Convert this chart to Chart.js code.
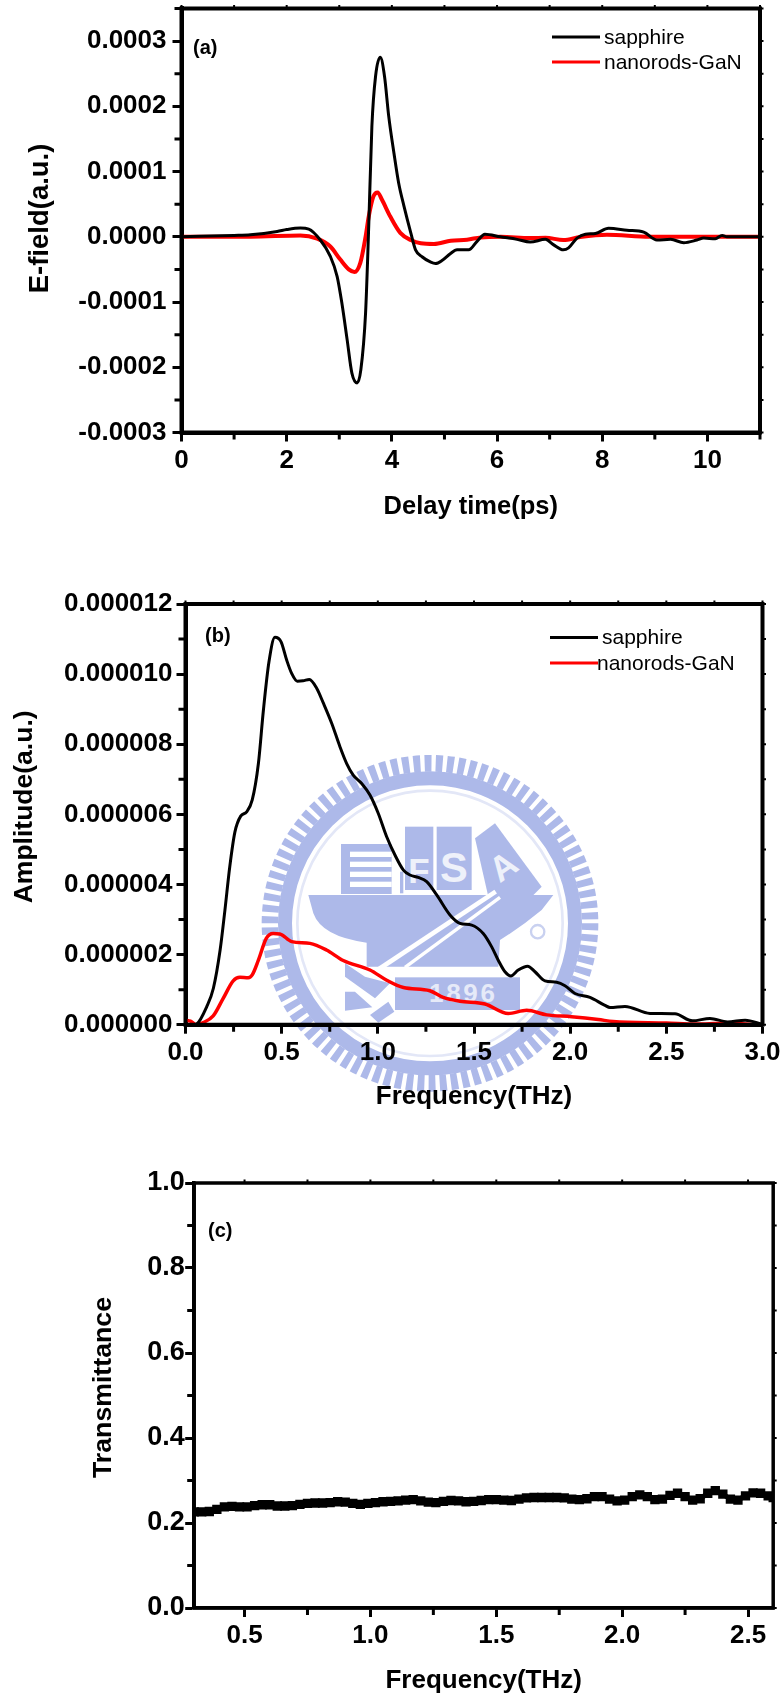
<!DOCTYPE html>
<html><head><meta charset="utf-8">
<style>
html,body{margin:0;padding:0;background:#fff;width:782px;height:1697px;overflow:hidden}
canvas{position:absolute;left:0;z-index:2}
#logo{position:absolute;left:255px;top:750px;width:360px;height:350px;z-index:1}
</style>
<script src="https://cdn.jsdelivr.net/npm/chart.js@4"></script>
</head><body>
<svg id="logo" viewBox="0 0 1080 1050" xmlns="http://www.w3.org/2000/svg" font-family="Liberation Sans" font-weight="bold">
  <circle cx="525" cy="520" r="480" fill="none" stroke="#adb9e9" stroke-width="50" pathLength="90" stroke-dasharray="0.62 0.38"/>
  <circle cx="525" cy="520" r="435" fill="none" stroke="#adb9e9" stroke-width="42"/>
  <circle cx="525" cy="520" r="398" fill="none" stroke="#e3e7f7" stroke-width="8"/>
  <g fill="#adb9e9">
    <rect x="258" y="282" width="152" height="150"/>
    <rect x="450" y="230" width="85" height="190"/>
    <rect x="545" y="230" width="105" height="190"/>
    <rect x="435" y="365" width="10" height="65"/>
    <polygon points="660,265 720,220 860,410 800,470 700,440"/>
    <path d="M160,435 H895 L860,480 Q800,530 735,570 L730,650 H335 L335,578 Q200,560 175,490 Z"/>
    <rect x="420" y="682" width="375" height="98"/>
    <polygon points="270,640 330,680 405,700 360,745 270,680"/>
    <polygon points="270,725 300,725 352,772 270,782"/>
    <polygon points="345,795 400,755 418,785 370,818"/>
  </g>
  <g fill="#fff">
    <rect x="285" y="305" width="125" height="16"/>
    <rect x="285" y="335" width="125" height="16"/>
    <rect x="285" y="365" width="125" height="16"/>
    <rect x="285" y="395" width="125" height="16"/>
    <text x="492" y="400" font-size="105" text-anchor="middle" opacity="0.8">F</text>
    <text x="597" y="397" font-size="125" text-anchor="middle" opacity="0.8">S</text>
    <text x="745" y="385" font-size="105" text-anchor="middle" opacity="0.8" transform="rotate(-35 745 350)">A</text>
    <text x="625" y="755" font-size="78" text-anchor="middle" letter-spacing="8" opacity="0.7">1896</text>
  </g>
  <path d="M345,675 L722,425" stroke="#fff" stroke-width="14" fill="none"/>
  <path d="M450,652 L735,442" stroke="#fff" stroke-width="10" fill="none"/>
  <circle cx="848" cy="545" r="20" fill="none" stroke="#c9d1f0" stroke-width="7"/>
</svg>
<canvas id="a" width="782" height="530" style="top:0"></canvas>
<canvas id="b" width="782" height="590" style="top:540px"></canvas>
<canvas id="c" width="782" height="557" style="top:1140px"></canvas>
<script>
// ---------- panel (a) ----------
const timeSapphire = [0,1,1.31,1.82,2.0,2.26,2.42,2.64,2.83,2.96,3.05,3.15,3.24,3.34,3.41,3.5,3.56,3.62,3.69,3.78,3.86,3.94,4.04,4.13,4.23,4.36,4.45,4.58,4.74,4.83,4.96,5.11,5.24,5.46,5.62,5.77,6.06,6.38,6.63,6.92,7.07,7.26,7.36,7.52,7.68,7.87,8.12,8.47,8.79,9.04,9.3,9.55,9.8,9.93,10.15,10.28,10.37,11];
const fieldSapphire = [0,0.02,0.03,0.08,0.11,0.133,0.118,-0.05,-0.30,-0.61,-1.02,-1.58,-2.09,-2.24,-2.04,-1.17,0.16,1.69,2.46,2.75,2.46,1.85,1.28,0.82,0.47,0.06,-0.2,-0.31,-0.39,-0.41,-0.36,-0.26,-0.2,-0.2,-0.07,0.04,0,-0.04,-0.08,-0.04,-0.12,-0.2,-0.17,-0.02,0.04,0.05,0.13,0.1,0.07,-0.05,-0.04,-0.09,-0.05,-0.02,-0.03,0.02,0,0];
const timeGaN = [0,1.31,2.26,2.58,2.83,3.02,3.18,3.29,3.4,3.5,3.56,3.65,3.73,3.81,3.97,4.16,4.36,4.55,4.8,5.12,5.43,5.69,6.07,6.63,6.92,7.26,7.58,8.09,8.9,11];
const fieldGaN = [0,0,0.02,-0.03,-0.15,-0.35,-0.5,-0.54,-0.4,0,0.31,0.62,0.68,0.57,0.31,0.06,-0.05,-0.1,-0.11,-0.06,-0.045,-0.01,0,-0.02,-0.015,-0.05,-0.005,0.03,0,0];
const fieldUnit = 1e-4;
const ticksAX = [0,2,4,6,8,10];
const minorAX = [1,3,5,7,9,11];
const ticksAY = [-0.0003,-0.0002,-0.0001,0,0.0001,0.0002,0.0003];
const minorAY = [-0.00025,-0.00015,-0.00005,0.00005,0.00015,0.00025,0.00035];

// ---------- panel (b) ----------
const freqSapphire = [0.04,0.058,0.11,0.145,0.18,0.205,0.23,0.257,0.287,0.318,0.347,0.379,0.405,0.434,0.465,0.497,0.526,0.552,0.581,0.611,0.644,0.682,0.717,0.76,0.803,0.838,0.872,0.916,0.959,1.002,1.046,1.089,1.133,1.167,1.21,1.254,1.306,1.375,1.427,1.488,1.548,1.592,1.626,1.661,1.692,1.73,1.779,1.817,1.869,1.93,1.973,2.025,2.103,2.181,2.207,2.285,2.415,2.545,2.636,2.727,2.818,2.91,3.0];
const ampSapphire = [0,0.02,0.51,1.04,2.13,3.27,4.5,5.5,5.95,6.07,6.41,7.45,8.97,10.35,11.05,10.92,10.4,10.02,9.8,9.81,9.85,9.6,9.17,8.6,7.93,7.45,7.12,6.88,6.55,6.03,5.36,4.84,4.41,4.27,4.2,4.08,3.7,3.13,2.89,2.84,2.6,2.22,1.84,1.51,1.39,1.56,1.67,1.51,1.25,1.21,1.11,0.89,0.78,0.55,0.49,0.52,0.32,0.31,0.11,0.18,0.08,0.13,0.01];
const freqGaN = [0,0.026,0.058,0.092,0.144,0.196,0.248,0.283,0.326,0.347,0.379,0.42,0.456,0.49,0.552,0.647,0.733,0.82,0.959,1.046,1.133,1.27,1.34,1.427,1.557,1.678,1.774,1.878,2.007,2.146,2.223,2.5,2.65,2.8,3.0];
const ampGaN = [0.13,0.1,0,0.06,0.25,0.75,1.25,1.35,1.34,1.42,1.84,2.46,2.6,2.59,2.37,2.32,2.13,1.83,1.56,1.27,1.06,0.97,0.78,0.67,0.59,0.32,0.41,0.28,0.23,0.15,0.09,0.05,0.02,0.04,0];
const ampUnit = 1e-6;
const ticksBX = [0,0.5,1,1.5,2,2.5,3];
const minorBX = [0.25,0.75,1.25,1.75,2.25,2.75];
const ticksBY = [0,0.000002,0.000004,0.000006,0.000008,0.00001,0.000012];
const minorBY = [0.000001,0.000003,0.000005,0.000007,0.000009,0.000011];

// ---------- panel (c) ----------
const freqTrans = [0.30,0.33,0.36,0.39,0.42,0.45,0.48,0.51,0.54,0.57,0.60,0.63,0.66,0.69,0.72,0.75,0.78,0.81,0.84,0.87,0.90,0.93,0.96,0.99,1.02,1.05,1.08,1.11,1.14,1.17,1.20,1.23,1.26,1.29,1.32,1.35,1.38,1.41,1.44,1.47,1.50,1.53,1.56,1.59,1.62,1.65,1.68,1.71,1.74,1.77,1.80,1.83,1.86,1.89,1.92,1.95,1.98,2.01,2.04,2.07,2.10,2.13,2.16,2.19,2.22,2.25,2.28,2.31,2.34,2.37,2.40,2.43,2.46,2.49,2.52,2.55,2.58,2.60];
const transmittance = [0.226,0.226,0.227,0.232,0.238,0.239,0.238,0.238,0.241,0.243,0.243,0.240,0.240,0.241,0.244,0.246,0.247,0.247,0.248,0.250,0.249,0.246,0.244,0.246,0.248,0.250,0.251,0.252,0.254,0.255,0.252,0.249,0.248,0.251,0.253,0.252,0.250,0.251,0.253,0.255,0.255,0.254,0.253,0.256,0.259,0.260,0.260,0.260,0.260,0.259,0.256,0.255,0.257,0.262,0.262,0.256,0.252,0.254,0.262,0.266,0.262,0.255,0.256,0.265,0.270,0.262,0.254,0.257,0.270,0.276,0.268,0.256,0.254,0.264,0.271,0.270,0.264,0.260];
const ticksCX = [0.5,1,1.5,2,2.5];
const minorCX = [0.75,1.25,1.75,2.25];
const ticksCY = [0,0.2,0.4,0.6,0.8,1];
const minorCY = [0.1,0.3,0.5,0.7,0.9];

const seriesNames = ['sapphire','nanorods-GaN'];
const BLACK = '#000000', RED = '#ff0000';

Chart.defaults.font.family = '"Liberation Sans", Arial, sans-serif';
Chart.defaults.color = '#000';

const pairs = (xs, ys, k = 1) => xs.map((x, i) => ({ x, y: ys[i] * k }));

// Panel tag, in-plot legend, top/right frame, minor ticks and mirrored ticks.
const panelDecor = {
  id: 'panelDecor',
  afterLayout(chart, args, o) {
    const y = chart.scales.y, shift = o.titleShift;
    if (!y._shifted) {
      const orig = y.drawTitle;
      y.drawTitle = function () { this.top += shift; this.bottom += shift; orig.call(this); this.top -= shift; this.bottom -= shift; };
      y._shifted = true;
    }
  },
  afterDatasetsDraw(chart, args, o) {
    const { ctx, chartArea: ca, scales: { x, y } } = chart;
    ctx.save();
    ctx.strokeStyle = '#000';
    ctx.lineCap = 'butt';
    // frame
    ctx.lineWidth = o.frame;
    ctx.beginPath();
    ctx.moveTo(ca.left - o.frame / 2, ca.top); ctx.lineTo(ca.right + o.frame / 2, ca.top);
    ctx.moveTo(ca.right, ca.top); ctx.lineTo(ca.right, ca.bottom);
    ctx.moveTo(ca.left - o.frame / 2, ca.bottom); ctx.lineTo(ca.right + o.frame / 2, ca.bottom);
    ctx.moveTo(ca.left, ca.top); ctx.lineTo(ca.left, ca.bottom);
    ctx.stroke();
    // minor ticks
    ctx.lineWidth = 3;
    ctx.beginPath();
    o.minorX.forEach(v => { const p = x.getPixelForValue(v); ctx.moveTo(p, ca.bottom); ctx.lineTo(p, ca.bottom + 7); });
    o.minorY.forEach(v => { const p = y.getPixelForValue(v); ctx.moveTo(ca.left, p); ctx.lineTo(ca.left - 7, p); });
    ctx.stroke();
    // mirrored ticks on the top and right edges
    ctx.lineWidth = 2;
    ctx.beginPath();
    o.ticksX.concat(o.minorX).forEach(v => { const p = x.getPixelForValue(v); ctx.moveTo(p, ca.top); ctx.lineTo(p, ca.top - 3.5); });
    o.ticksY.concat(o.minorY).forEach(v => { const p = y.getPixelForValue(v); ctx.moveTo(ca.right, p); ctx.lineTo(ca.right + 3.5, p); });
    ctx.stroke();
    // panel tag
    ctx.fillStyle = '#000';
    ctx.textBaseline = 'middle';
    ctx.font = 'bold 20px "Liberation Sans"';
    ctx.fillText(o.tag, o.tagX, o.tagY);
    // legend
    if (o.legend) {
      ctx.font = '21px "Liberation Sans"';
      chart.data.datasets.forEach((ds, i) => {
        const l = o.legend[i];
        ctx.strokeStyle = ds.borderColor;
        ctx.lineWidth = 3;
        ctx.beginPath(); ctx.moveTo(l.x0, l.y); ctx.lineTo(l.x1, l.y); ctx.stroke();
        ctx.fillStyle = '#000';
        ctx.fillText(ds.label, l.tx, l.y + 1);
      });
    }
    ctx.restore();
  }
};

function panel(cfg) {
  const fixedWidth = w => s => { s.width = w; s.paddingTop = s.paddingBottom = s.paddingLeft = s.paddingRight = 0; };
  const fixedHeight = h => s => { s.height = h; s.paddingTop = s.paddingBottom = s.paddingLeft = s.paddingRight = 0; };
  const axis = (c) => ({
    type: 'linear', min: c.min, max: c.max,
    border: { display: true, color: '#000', width: cfg.frame },
    grid: { display: true, drawOnChartArea: false, drawTicks: true, tickLength: 9, tickWidth: 3, tickColor: '#000' },
    ticks: {
      color: '#000', autoSkip: false, maxRotation: 0, minRotation: 0, padding: c.pad,
      font: { size: c.fs, weight: 'bold' },
      callback: v => Number(v).toFixed(c.digits)
    },
    afterBuildTicks: s => { s.ticks = c.ticks.map(value => ({ value })); },
    title: { display: true, text: c.title, color: '#000', font: { size: c.titleFs, weight: 'bold' }, padding: c.titlePad }
  });
  return new Chart(document.getElementById(cfg.id), {
    type: 'line',
    data: { datasets: cfg.datasets },
    options: {
      responsive: false, animation: false, devicePixelRatio: 1,
      layout: { padding: { top: cfg.top, right: 782 - cfg.right, left: 0, bottom: 0 } },
      plugins: {
        legend: { display: false }, tooltip: { enabled: false },
        panelDecor: {
          frame: cfg.frame, minorX: cfg.x.minor, minorY: cfg.y.minor, ticksX: cfg.x.ticks, ticksY: cfg.y.ticks,
          tag: cfg.tag, tagX: cfg.tagX, tagY: cfg.tagY, legend: cfg.legend, titleShift: cfg.titleShift
        }
      },
      elements: { point: { radius: 0 } },
      scales: {
        x: Object.assign(axis(cfg.x), { afterFit: fixedHeight(cfg.canvasH - cfg.bottom) }),
        y: Object.assign(axis(cfg.y), { afterFit: fixedWidth(cfg.left) })
      }
    },
    plugins: [panelDecor]
  });
}

const lineDs = (label, data, color, w) => ({
  label, data, borderColor: color, backgroundColor: color, borderWidth: w,
  cubicInterpolationMode: 'monotone', pointRadius: 0, fill: false
});

panel({
  id: 'a', canvasH: 530, left: 181.5, right: 760, top: 8.4, bottom: 432.5, frame: 4, titleShift: -2,
  tag: '(a)', tagX: 193, tagY: 48,
  legend: [{ x0: 552, x1: 600, y: 37, tx: 604 }, { x0: 552, x1: 600, y: 62, tx: 604 }],
  datasets: [
    lineDs(seriesNames[0], pairs(timeSapphire, fieldSapphire, fieldUnit), BLACK, 3),
    lineDs(seriesNames[1], pairs(timeGaN, fieldGaN, fieldUnit), RED, 4)
  ],
  x: { min: 0, max: 11, ticks: ticksAX, minor: minorAX, digits: 0, fs: 26, pad: 3.5, title: 'Delay time(ps)', titleFs: 25.5, titlePad: { top: 0, bottom: 8 } },
  y: { min: -0.0003, max: 0.00035, ticks: ticksAY, minor: minorAY, digits: 4, fs: 26, pad: 6, title: 'E-field(a.u.)', titleFs: 27.5, titlePad: { top: 24, bottom: 0 } }
});

panel({
  id: 'b', canvasH: 590, left: 185.5, right: 762.5, top: 64, bottom: 484.7, frame: 4, titleShift: -7.5,
  tag: '(b)', tagX: 205, tagY: 96.5,
  legend: [{ x0: 550, x1: 598, y: 97.5, tx: 602 }, { x0: 550, x1: 598, y: 123, tx: 597 }],
  datasets: [
    lineDs(seriesNames[0], pairs(freqSapphire, ampSapphire, ampUnit), BLACK, 3),
    lineDs(seriesNames[1], pairs(freqGaN, ampGaN, ampUnit), RED, 3.5)
  ],
  x: { min: 0, max: 3, ticks: ticksBX, minor: minorBX, digits: 1, fs: 26, pad: 3.3, title: 'Frequency(THz)', titleFs: 26, titlePad: { top: 0, bottom: 17.5 } },
  y: { min: 0, max: 0.000012, ticks: ticksBY, minor: minorBY, digits: 6, fs: 26, pad: 4, title: 'Amplitude(a.u.)', titleFs: 26.5, titlePad: { top: 9, bottom: 0 } }
});

panel({
  id: 'c', canvasH: 557, left: 194.2, right: 773.2, top: 43, bottom: 468, frame: 3.5, titleShift: -8,
  tag: '(c)', tagX: 208, tagY: 91,
  datasets: [{
    label: 'Transmittance', data: pairs(freqTrans, transmittance), borderColor: BLACK, backgroundColor: BLACK,
    borderWidth: 5, pointStyle: 'rect', pointRadius: 6.6, pointBorderWidth: 0, tension: 0
  }],
  x: { min: 0.3, max: 2.6, ticks: ticksCX, minor: minorCX, digits: 1, fs: 26, pad: 3.5, title: 'Frequency(THz)', titleFs: 26, titlePad: { top: 0, bottom: 0.5 } },
  y: { min: 0, max: 1, ticks: ticksCY, minor: minorCY, digits: 1, fs: 27, pad: 0.5, title: 'Transmittance', titleFs: 26.7, titlePad: { top: 88, bottom: 0 } }
});
</script>
</body></html>
